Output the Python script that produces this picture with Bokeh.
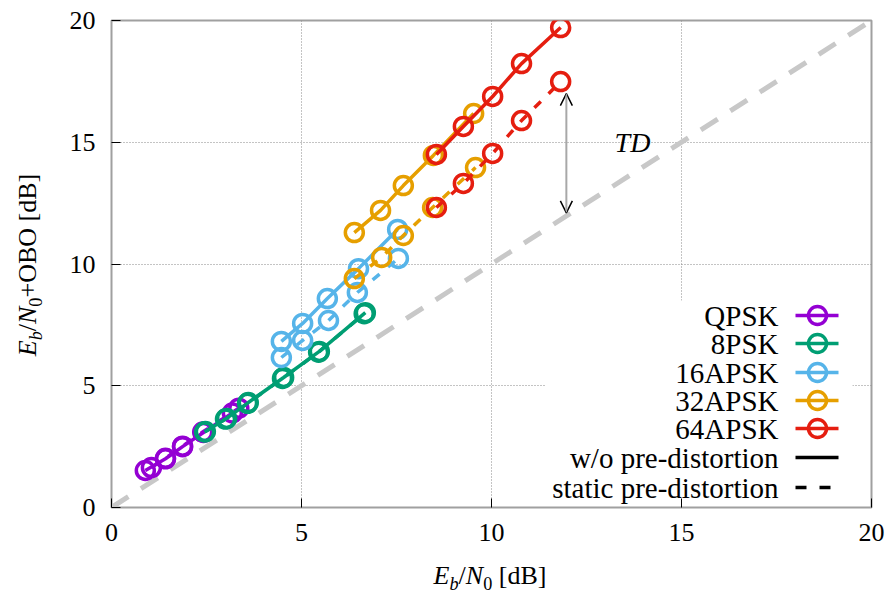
from bokeh.plotting import figure
from bokeh.models import Label, Arrow, OpenHead, Range1d, FixedTicker, Div
from bokeh.layouts import row, column
from bokeh.embed import file_html
from bokeh.resources import INLINE

# ---------------- data ----------------
series_names = ["QPSK", "8PSK", "16APSK", "32APSK", "64APSK"]
series_colors = ["#9400D3", "#009E73", "#56B4E9", "#E69F00", "#E51E10"]

qpsk_wo_x = [0.89, 1.42, 1.87, 2.42, 3.18]
qpsk_wo_y = [1.52, 2.00, 2.50, 3.08, 3.88]
qpsk_st_x = [1.05, 1.42, 1.87, 2.40, 3.35]
qpsk_st_y = [1.64, 2.02, 2.52, 3.10, 4.08]

psk8_wo_x = [2.47, 3.03, 3.60, 4.53, 5.47, 6.68]
psk8_wo_y = [3.12, 3.66, 4.31, 5.34, 6.41, 8.00]
psk8_st_x = [2.45, 3.00, 3.58, 4.50, 5.45, 6.65]
psk8_st_y = [3.10, 3.63, 4.28, 5.30, 6.38, 7.96]

apsk16_wo_x = [4.47, 5.03, 5.68, 6.50, 7.53]
apsk16_wo_y = [6.82, 7.56, 8.58, 9.81, 11.42]
apsk16_st_x = [4.47, 5.03, 5.71, 6.47, 7.55]
apsk16_st_y = [6.16, 6.86, 7.68, 8.83, 10.23]

apsk32_wo_x = [6.39, 7.08, 7.68, 8.47, 9.53]
apsk32_wo_y = [11.29, 12.20, 13.22, 14.46, 16.18]
apsk32_st_x = [6.39, 7.11, 7.68, 8.45, 9.58]
apsk32_st_y = [9.40, 10.27, 11.17, 12.32, 13.96]

apsk64_wo_x = [8.55, 9.26, 10.03, 10.79, 11.82]
apsk64_wo_y = [14.50, 15.65, 16.88, 18.23, 19.71]
apsk64_st_x = [8.55, 9.26, 10.03, 10.79, 11.82]
apsk64_st_y = [12.32, 13.31, 14.54, 15.89, 17.49]

diag_x = [0, 20]
diag_y = [0, 20]

ticks = [0, 5, 10, 15, 20]
td_x = 11.97
td_low = 12.1
td_high = 17.0

series = [
    (qpsk_wo_x, qpsk_wo_y, qpsk_st_x, qpsk_st_y),
    (psk8_wo_x, psk8_wo_y, psk8_st_x, psk8_st_y),
    (apsk16_wo_x, apsk16_wo_y, apsk16_st_x, apsk16_st_y),
    (apsk32_wo_x, apsk32_wo_y, apsk32_st_x, apsk32_st_y),
    (apsk64_wo_x, apsk64_wo_y, apsk64_st_x, apsk64_st_y),
]

SERIF = "Liberation Serif"

p = figure(width=844, height=560, x_range=Range1d(0, 20), y_range=Range1d(0, 20),
           output_backend="svg", toolbar_location=None,
           min_border_left=63, min_border_right=21, min_border_top=20, min_border_bottom=53)
p.background_fill_color = "white"
p.border_fill_color = "white"
p.outline_line_color = "#a0a0a0"
p.outline_line_width = 2

for ax in (p.xaxis[0], p.yaxis[0]):
    ax.ticker = FixedTicker(ticks=ticks)
    ax.axis_line_color = None
    ax.major_tick_in = 9
    ax.major_tick_out = 0
    ax.minor_tick_line_color = None
    ax.major_tick_line_color = "black"
    ax.major_label_text_font = SERIF
    ax.major_label_text_font_size = "26px"
    ax.major_label_text_color = "black"
p.xaxis.major_label_standoff = 16
p.yaxis.major_label_standoff = 16

for g in (p.xgrid[0], p.ygrid[0]):
    g.ticker = FixedTicker(ticks=ticks)
    g.grid_line_color = "#888888"
    g.grid_line_dash = "1 2"
    g.grid_line_width = 1

# diagonal reference
p.line(diag_x, diag_y, line_color="#c8c8c8", line_width=5, line_dash="20 15")

# data
for (wx, wy, sx, sy), col in zip(series, series_colors):
    p.line(wx, wy, line_color=col, line_width=3.5)
    p.scatter(wx, wy, marker="circle", size=18, fill_alpha=0, line_color=col, line_width=3.5)
    p.line(sx, sy, line_color=col, line_width=3.5, line_dash="9 11")
    p.scatter(sx, sy, marker="circle", size=18, fill_alpha=0, line_color=col, line_width=3.5)

# TD arrow
p.add_layout(Arrow(x_start=td_x, y_start=td_low, x_end=td_x, y_end=td_high,
                   line_color="#a8a8a8", line_width=2,
                   start=OpenHead(size=12, line_color="black", line_width=1.5),
                   end=OpenHead(size=12, line_color="black", line_width=1.5)))
p.add_layout(Label(x=13.71, y=15.0, text="TD", text_font=SERIF, text_font_style="italic",
                   text_font_size="28px", text_align="center", text_baseline="middle",
                   text_color="black"))

# legend (manual, text on the left of the sample)
px_x = lambda px: (px - 111) / 38.0
px_y = lambda py: (507 - py) / 24.35
p.quad(left=[px_x(545)], right=[px_x(852)], bottom=[px_y(504)], top=[px_y(300)],
       fill_color="white", line_color=None)
legend_rows = [315, 343, 372, 400, 428, 457, 487]
legend_labels = series_names + ["w/o pre-distortion", "static pre-distortion"]
for r, lab in zip(legend_rows, legend_labels):
    p.add_layout(Label(x=px_x(778), y=px_y(r), text=lab, text_font=SERIF,
                       text_font_size="29px", text_align="right", text_baseline="middle",
                       text_color="black"))
for r, col in zip(legend_rows[:5], series_colors):
    p.segment(x0=[px_x(795)], y0=[px_y(r)], x1=[px_x(838)], y1=[px_y(r)],
              line_color=col, line_width=3.5)
    p.scatter([px_x(817)], [px_y(r)], marker="circle", size=18, fill_alpha=0,
              line_color=col, line_width=3.5)
p.segment(x0=[px_x(795)], y0=[px_y(legend_rows[5])], x1=[px_x(838)], y1=[px_y(legend_rows[5])],
          line_color="black", line_width=3.5)
p.segment(x0=[px_x(795)], y0=[px_y(legend_rows[6])], x1=[px_x(838)], y1=[px_y(legend_rows[6])],
          line_color="black", line_width=3.5, line_dash="11 13")

# axis labels as HTML (italic + subscripts)
FONT_CSS = "font-family:'Liberation Serif'; font-size:26px; line-height:26px; color:black; white-space:nowrap;"
SUB = "<sub style='font-size:70%; vertical-align:-6px; line-height:0;'>"
xlabel_html = f"<i>E</i>{SUB}<i>b</i></sub>/<i>N</i>{SUB}0</sub> [dB]"
ylabel_html = f"<i>E</i>{SUB}<i>b</i></sub>/<i>N</i>{SUB}0</sub>+OBO [dB]"

xdiv = Div(width=844, height=36, margin=(0, 0, 0, 0),
           text=f"<div style=\"{FONT_CSS} width:844px; box-sizing:border-box; "
                f"padding-left:40px; padding-top:3px; text-align:center;\">{xlabel_html}</div>")
ydiv = Div(width=48, height=596, margin=(0, 0, 0, 0),
           text=f"<div style=\"position:relative; width:48px; height:596px;\">"
                f"<div style=\"{FONT_CSS} position:absolute; left:28px; top:265px; "
                f"transform:translate(-50%,-50%) rotate(-90deg);\">{ylabel_html}</div></div>")

layout = row(ydiv, column(p, xdiv, spacing=0), spacing=0)

open("out.html", "w").write(file_html(layout, INLINE))
